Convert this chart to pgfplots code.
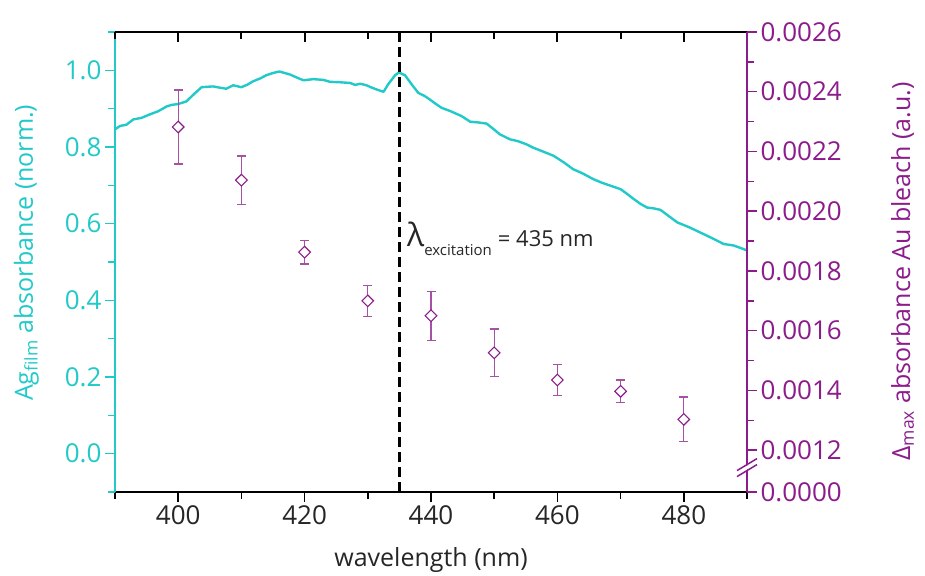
\documentclass[border=0pt]{standalone}
\usepackage{fontspec}
\setmainfont{Open Sans}
\usepackage{pgfplots}
\pgfplotsset{compat=1.18}
\definecolor{cy}{HTML}{22C9C9}
\definecolor{pu}{HTML}{8C1C8C}
\definecolor{pue}{HTML}{A552A5}
\definecolor{tx}{HTML}{262626}

\pgfplotstableread{
x y
390.0 0.846
390.8 0.855
391.8 0.858
392.9 0.872
394.2 0.876
395.5 0.885
396.8 0.893
398.2 0.906
399.0 0.910
400.0 0.912
401.3 0.919
402.5 0.938
403.7 0.956
405.5 0.958
406.5 0.955
407.6 0.952
408.7 0.961
410.0 0.956
411.0 0.963
411.8 0.971
413.0 0.979
413.9 0.987
415.0 0.993
416.0 0.997
417.7 0.989
418.8 0.981
419.8 0.974
421.4 0.977
423.0 0.975
424.0 0.970
425.5 0.969
427.2 0.967
428.0 0.962
428.8 0.965
429.8 0.961
430.6 0.955
431.4 0.950
432.5 0.944
433.2 0.963
434.3 0.987
434.8 0.993
435.1 0.993
435.9 0.987
437.0 0.962
438.0 0.941
439.0 0.933
439.8 0.924
440.8 0.912
441.7 0.902
443.0 0.894
444.8 0.881
446.2 0.866
447.5 0.864
448.8 0.861
449.8 0.848
450.9 0.833
452.5 0.820
453.8 0.815
455.1 0.807
456.2 0.798
457.3 0.791
459.4 0.777
461.0 0.760
462.5 0.742
464.0 0.731
465.7 0.716
467.0 0.707
468.4 0.699
470.0 0.690
471.0 0.678
472.1 0.664
473.2 0.651
474.2 0.642
475.2 0.640
476.3 0.636
477.6 0.620
479.0 0.603
480.8 0.591
482.6 0.577
484.5 0.562
486.3 0.547
487.9 0.543
489.4 0.534
490.0 0.530
}\agfilm

\pgfplotstableread{
x y e
400 0.002282 0.000124
410 0.002104 0.000081
420 0.001863 0.000040
430 0.001700 0.000052
440 0.001650 0.000082
450 0.001526 0.000080
460 0.001435 0.000052
470 0.001397 0.000038
480 0.001303 0.000075
}\bleach

\begin{document}
\begin{tikzpicture}
\pgfplotsset{every axis/.append style={
  scale only axis, width=632pt, height=460pt,
  xmin=390, xmax=490,
  font=\fontsize{25}{30}\selectfont,
  tick label style={font=\fontsize{26}{30}\selectfont},
  major tick length=10pt, minor tick length=7pt,
  xtick={400,420,440,460,480},
  minor xtick={390,410,430,450,470,490},
  clip=false,
}}
% left axis
\begin{axis}[
  axis x line*=bottom, axis y line*=left,
  ymin=-0.1, ymax=1.1,
  xticklabels={400,420,440,460,480},
  ytick={0,0.2,0.4,0.6,0.8,1.0},
  yticklabels={0.0,0.2,0.4,0.6,0.8,1.0},
  minor ytick={-0.1,0.1,0.3,0.5,0.7,0.9,1.1},
  tick align=outside,
  x axis line style={black, line width=1.8pt},
  y axis line style={cy, line width=1.8pt},
  xtick style={black, line width=1.6pt},
  ytick style={cy, line width=1.5pt},
  xticklabel style={text=tx},
  yticklabel style={text=cy},
  xlabel={wavelength (nm)},
  xlabel style={at={(axis description cs:0.5,-0.163)}, anchor=base, text=tx},
  ylabel={Ag\textsubscript{film} absorbance (norm.)},
  ylabel style={at={(axis description cs:-0.130,0.52)}, anchor=base, text=cy},
]
\addplot[cy, line width=2.4pt, line join=round] table[x=x,y=y]{\agfilm};
\addplot[black, line width=2.6pt, dash pattern=on 10pt off 5pt] coordinates {(435,-0.1) (435,1.1)};
\node[anchor=base west, text=tx, inner sep=0pt] at (axis cs:436.2,0.540)
  {{\fontsize{32}{32}\selectfont λ}\raisebox{-9pt}{\fontsize{15}{15}\selectfont excitation}\hspace{6pt}{\fontsize{22}{26}\selectfont = 435 nm}};
\end{axis}
% right axis
\begin{axis}[
  axis x line*=top, axis y line*=right,
  ymin=0.00106, ymax=0.0026,
  xticklabels={},
  xtick align=inside, ytick align=outside,
  ytick={0.00106,0.0012,0.0014,0.0016,0.0018,0.0020,0.0022,0.0024,0.0026},
  yticklabels={0.0000,0.0012,0.0014,0.0016,0.0018,0.0020,0.0022,0.0024,0.0026},
  minor ytick={0.0013,0.0015,0.0017,0.0019,0.0021,0.0023,0.0025},
  scaled y ticks=false,
  x axis line style={black, line width=1.8pt},
  y axis line style={pu, line width=1.8pt},
  xtick style={black, line width=2pt},
  ytick style={pu, line width=1.5pt},
  yticklabel style={text=pu},
  ylabel={Δ\textsubscript{max} absorbance Au bleach (a.u.)},
  ylabel style={at={(axis description cs:1.258,0.48)}, anchor=base, text=pu},
]
\addplot[pu, only marks, mark=square*, mark size=4.1pt,
  mark options={rotate=45, fill=white, draw=pu, line width=1.1pt},
  error bars/.cd, y dir=both, y explicit,
  error bar style={pue, line width=1.3pt},
  error mark options={rotate=90, mark size=4.5pt, pue, line width=1.3pt}]
  table[x=x,y=y,y error=e]{\bleach};
% axis break marks
\fill[white] ([xshift=-10pt,yshift=-2pt]rel axis cs:1,0.04) -- ([xshift=10pt,yshift=10pt]rel axis cs:1,0.04)
   -- ([xshift=10pt,yshift=14pt]rel axis cs:1,0.04) -- ([xshift=-10pt,yshift=2pt]rel axis cs:1,0.04) -- cycle;
\draw[pu, line width=1.5pt] ([xshift=-10pt,yshift=-3pt]rel axis cs:1,0.04) -- ([xshift=10pt,yshift=9pt]rel axis cs:1,0.04);
\draw[pu, line width=1.5pt] ([xshift=-10pt,yshift=3pt]rel axis cs:1,0.04) -- ([xshift=10pt,yshift=15pt]rel axis cs:1,0.04);
\end{axis}
\pgfresetboundingbox
\path[use as bounding box] (-115pt,-83pt) rectangle (810pt,492pt);
\end{tikzpicture}
\end{document}
